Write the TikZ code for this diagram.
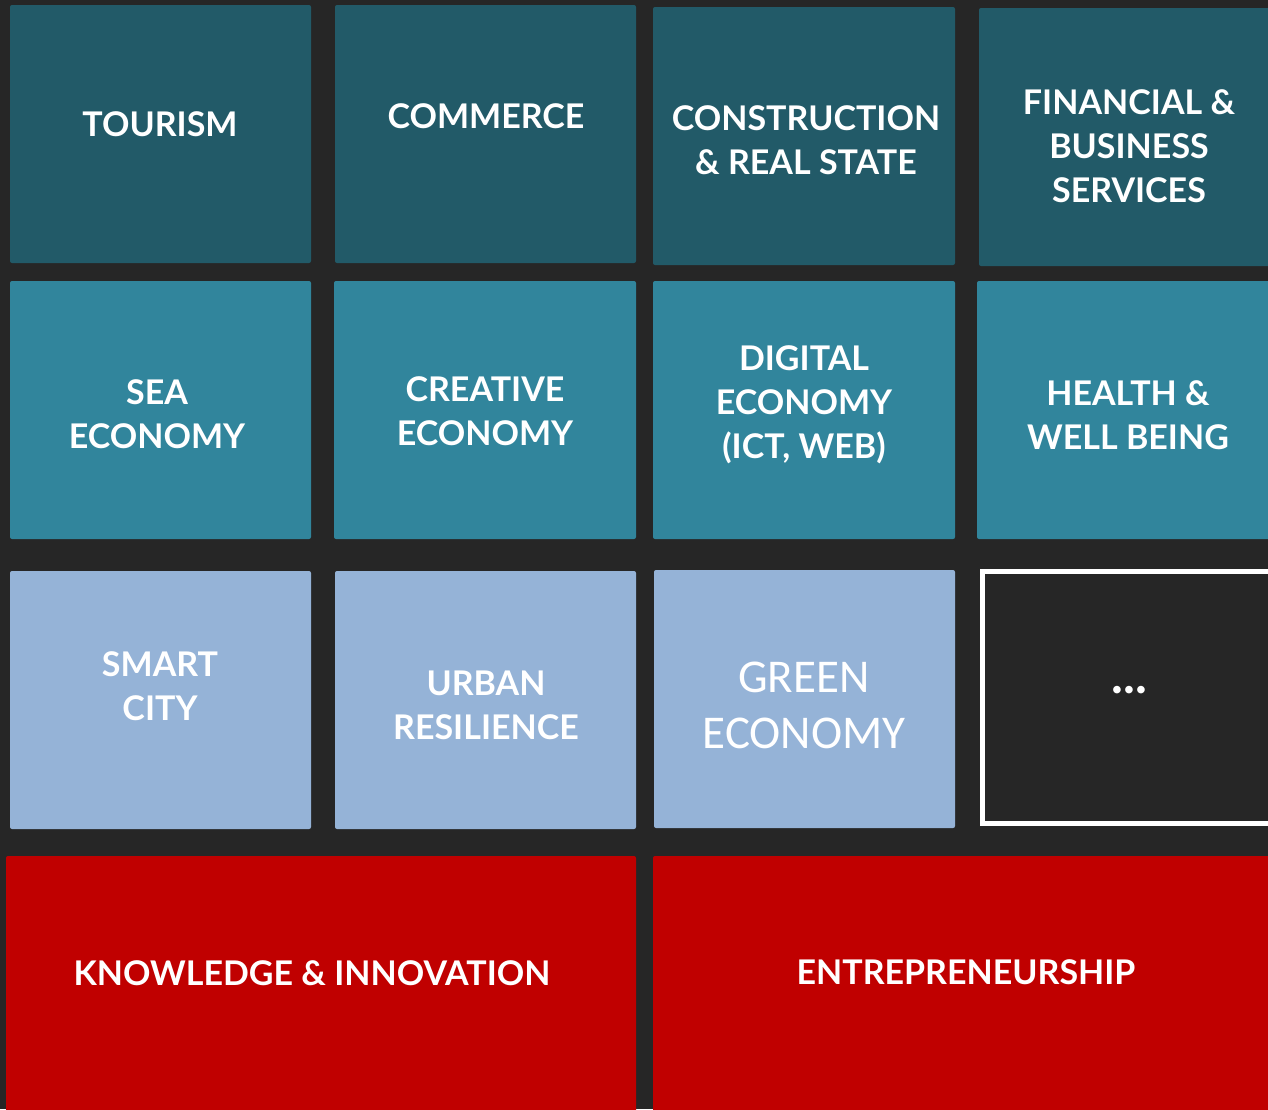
\documentclass[tikz,border=0pt]{standalone}
\usepackage{fontspec}
\setmainfont{Lato}
\newfontfamily\greenfont{Carlito}
\definecolor{bgdark}{HTML}{262626}
\definecolor{tealdark}{HTML}{225A68}
\definecolor{tealmid}{HTML}{31859C}
\definecolor{bluelight}{HTML}{95B3D7}
\definecolor{redbox}{HTML}{C00000}
\tikzset{
  label text/.style={text=white, align=center, font=\bfseries\fontsize{17}{22}\selectfont},
  green text/.style={text=white, align=center, font=\greenfont\fontsize{23.5}{28}\selectfont}
}

\begin{document}
\begin{tikzpicture}[x=0.5pt,y=-0.5pt]
            \useasboundingbox (0,0) rectangle (1268,1109);
            \fill[bgdark] (0,0) rectangle (1268,1109);
            % tiles
            \foreach \xa/\ya/\xb/\yb/\c in {10/5/311/263/tealdark,335/5/636/263/tealdark,653/7/955/265/tealdark,979/8/1280/266/tealdark,
                10/281/311/539/tealmid,334/281/636/539/tealmid,653/281/955/539/tealmid,977/281/1280/539/tealmid,
                10/571/311/829/bluelight,335/571/636/829/bluelight,654/570/955/828/bluelight,
                6/856/636/1120/redbox,653/856/1280/1120/redbox} {
            \fill[\c, rounded corners=1pt] (\xa,\ya) rectangle (\xb,\yb);}
            \draw[white, line width=2.5pt] (982.5,571.5) rectangle (1290,823.5);
            
            % labels
            \foreach \x/\y/\n/\t in {160/124/tourism/TOURISM,486/116/commerce/COMMERCE,806/140/construction/{CONSTRUCTION\\\& REAL STATE},
                1129/146/financial/{FINANCIAL \&\\BUSINESS\\SERVICES},157/414/sea/{SEA\\ECONOMY},485/411/creative/{CREATIVE\\ECONOMY},
                804/405/digital/{DIGITAL\\ECONOMY\\(ICT, WEB)},1128/415/health/{HEALTH \&\\WELL BEING},160/686/smart/{SMART\\CITY},
                486/705/urban/{URBAN\\RESILIENCE},312/973/knowledge/{KNOWLEDGE \& INNOVATION},966/972/entrepreneurship/ENTREPRENEURSHIP} {
            \node[label text] (\n) at (\x,\y) {\t};}
            \node[label text, font=\bfseries\fontsize{25}{28}\selectfont] (more) at (1129,690) {...};
            \node[green text] (green) at (804,705) {GREEN\\ECONOMY};
        \end{tikzpicture}
\end{document}
